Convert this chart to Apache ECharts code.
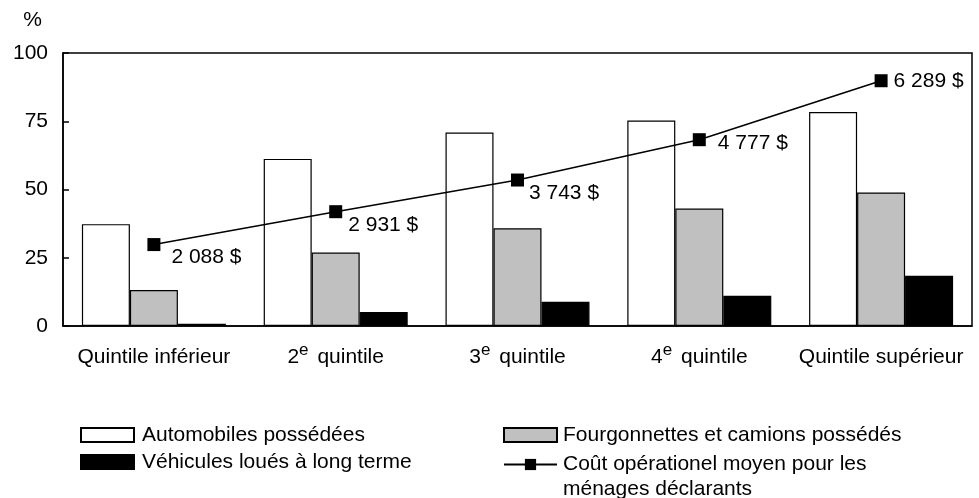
<!DOCTYPE html>
<html>
<head>
<meta charset="utf-8">
<script src="https://cdn.jsdelivr.net/npm/echarts@6/dist/echarts.min.js"></script>
<style>
html,body{margin:0;padding:0;background:#fff;}
#chart{width:979px;height:498px;}
</style>
</head>
<body>
<div id="chart"></div>
<script>
var categories = ['Quintile inférieur', '2e quintile', '3e quintile', '4e quintile', 'Quintile supérieur'];
var autos = [37.3, 61.2, 70.9, 75.3, 78.4];
var fourgonnettes = [13.2, 26.9, 35.8, 43.0, 48.9];
var loues = [0.8, 5.1, 8.9, 11.1, 18.4];
var couts = [2088, 2931, 3743, 4777, 6289];
var yTicks = [0, 25, 50, 75, 100];

var seriesNames = ['Automobiles possédées', 'Fourgonnettes et camions possédés', 'Véhicules loués à long terme', 'Coût opérationel moyen pour les\nménages déclarants'];
var labelOffsets = [[11, 13], [6, 14], [5, 13], [12, 4], [6, 0]];

var FONT = 'Liberation Sans, Arial, sans-serif';

function fmtMoney(v) {
  var s = String(v);
  return s.replace(/\B(?=(\d{3})+(?!\d))/g, ' ') + ' $';
}

var chart = echarts.init(document.getElementById('chart'));

function legendText(padLeft, lh) {
  return { fontFamily: FONT, fontSize: 21, color: '#000', lineHeight: lh || 27, padding: [0, 0, 0, padLeft] };
}
function makeLegend(name, left, top, padLeft, extra, lh) {
  var l = {
    orient: 'vertical',
    padding: 0,
    itemWidth: 53,
    itemHeight: 14,
    selectedMode: false,
    data: [name],
    left: left,
    top: top,
    textStyle: legendText(padLeft, lh)
  };
  if (extra) { for (var k in extra) l[k] = extra[k]; }
  return l;
}

var option = {
  animation: false,
  backgroundColor: '#fff',
  textStyle: { fontFamily: FONT },
  grid: { left: 63, right: 7, top: 53, bottom: 172, show: true, borderColor: '#000', borderWidth: 1.5, containLabel: false },
  legend: [
    makeLegend(seriesNames[0], 80, 421.5, 3, { icon: 'rect' }),
    makeLegend(seriesNames[2], 80, 448.5, 3, { icon: 'rect' }),
    makeLegend(seriesNames[1], 503, 421.5, 1, { icon: 'rect' }),
    makeLegend(seriesNames[3], 503, 427, 1, { formatter: function (n) { return '\n' + n; } }, 25)
  ],
  xAxis: {
    type: 'category',
    data: categories,
    axisLine: { lineStyle: { color: '#000', width: 1.5 } },
    axisTick: { show: false },
    axisLabel: {
      margin: 16,
      interval: 0,
      color: '#000',
      fontSize: 21,
      fontFamily: FONT,
      formatter: function (v) {
        var m = v.match(/^(\d)e (.*)$/);
        if (m) return '{n|' + m[1] + '}{s|e}{n| ' + m[2] + '}';
        return '{n|' + v + '}';
      },
      rich: {
        n: { fontSize: 21, fontFamily: FONT, color: '#000', lineHeight: 30, verticalAlign: 'middle' },
        s: { fontSize: 17, fontFamily: FONT, color: '#000', lineHeight: 17, verticalAlign: 'top', padding: [0, 3, 0, 0] }
      }
    }
  },
  yAxis: [
    {
      type: 'value',
      min: yTicks[0],
      max: yTicks[yTicks.length - 1],
      interval: yTicks[1] - yTicks[0],
      name: '%',
      nameLocation: 'end',
      nameGap: 22,
      nameTextStyle: { fontFamily: FONT, fontSize: 21, color: '#000', align: 'right', padding: [0, 21, 0, 0] },
      axisLine: { show: true, lineStyle: { color: '#000', width: 1.5 } },
      axisTick: { show: true, inside: true, length: 6, lineStyle: { color: '#000', width: 1.5 } },
      axisLabel: { margin: 15, color: '#000', fontSize: 21, fontFamily: FONT },
      splitLine: { show: false }
    },
    {
      type: 'value',
      min: 0,
      max: 7000,
      show: false,
      splitLine: { show: false }
    }
  ],
  series: [
    {
      name: seriesNames[0], type: 'bar', data: autos, barWidth: 48, barGap: '0%',
      itemStyle: { color: '#fff', borderColor: '#000', borderWidth: 1.2 }
    },
    {
      name: seriesNames[1], type: 'bar', data: fourgonnettes, barWidth: 48, barGap: '0%',
      itemStyle: { color: '#c0c0c0', borderColor: '#000', borderWidth: 1.2 }
    },
    {
      name: seriesNames[2], type: 'bar', data: loues, barWidth: 48, barGap: '0%',
      itemStyle: { color: '#000', borderColor: '#000', borderWidth: 1.2 }
    },
    {
      name: seriesNames[3], type: 'line', yAxisIndex: 1,
      data: couts.map(function (v, i) {
        return { value: v, label: { offset: labelOffsets[i] } };
      }),
      symbol: 'rect', symbolSize: 13,
      itemStyle: { color: '#000' },
      lineStyle: { color: '#000', width: 1.5 },
      label: {
        show: true, position: 'right', distance: 0,
        fontFamily: FONT, fontSize: 21, color: '#000',
        formatter: function (p) { return fmtMoney(p.value); }
      },
      z: 5
    }
  ]
};

chart.setOption(option);
</script>
</body>
</html>
